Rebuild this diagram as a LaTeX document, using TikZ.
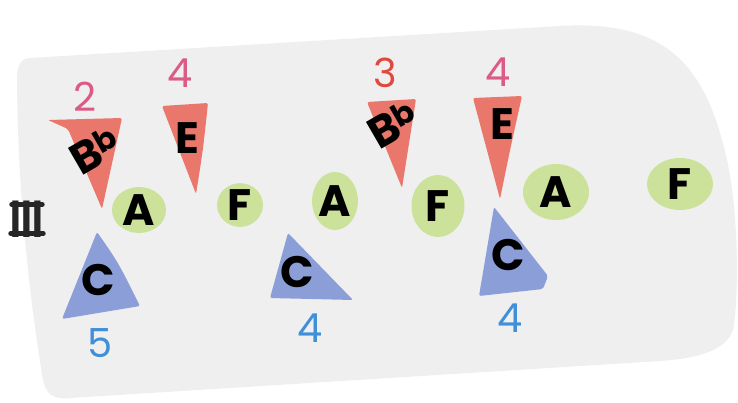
\documentclass[tikz,border=0pt]{standalone}
\usepackage{fontspec}
\setmainfont{Poppins}
\usetikzlibrary{shapes.geometric}
\definecolor{bg}{HTML}{EFEFEF}
\definecolor{tri}{HTML}{E9776B}
\definecolor{blu}{HTML}{8C9ED8}
\definecolor{grn}{HTML}{CCE29A}
\definecolor{pnk}{HTML}{DB5A86}
\definecolor{rd}{HTML}{E04A3C}
\definecolor{bnum}{HTML}{3F8FD9}
\begin{document}
\begin{tikzpicture}[x=1pt,y=-1pt,
  note/.style={font=\fontsize{44}{44}\bfseries\selectfont, text=black, inner sep=0pt},
  num/.style={font=\fontsize{40}{40}\selectfont, inner sep=0pt},
  redtri/.style={fill=tri, rounded corners=2pt},
  bluetri/.style={fill=blu, rounded corners=2pt},
  blob/.style={ellipse, fill=grn, inner sep=0pt, font=\fontsize{44}{44}\bfseries\selectfont}]
\fill[white] (0,0) rectangle (738,402);
\useasboundingbox (0,0) rectangle (738,402);
% background sheet
\fill[bg] (30,58) -- (560,26) .. controls (660,20) and (700,60) .. (722,140)
  .. controls (740,200) and (739,300) .. (733,330)
  .. controls (726,350) and (700,358) .. (660,361)
  -- (70,398) .. controls (52,400) and (46,393) .. (43,380)
  .. controls (30,300) and (18,200) .. (17,80)
  .. controls (17,66) and (20,59) .. (30,58) -- cycle;
% roman numeral
\node[font=\fontsize{52}{52}\bfseries\selectfont, inner sep=0pt, xscale=0.7,
  text=black!85] (rn) at (27,219) {\rmfamily III};
\draw[line width=5pt, line cap=round, black!85] ([xshift=1pt,yshift=-4pt]rn.north west) -- ([xshift=-1pt,yshift=-4pt]rn.north east);
\draw[line width=5pt, line cap=round, black!85] ([yshift=4pt]rn.south west) -- ([yshift=4pt]rn.south east);
% red triangles
\fill[redtri] (48,120) -- (122,118) -- (102,209) -- (68,129) -- cycle;
\fill[redtri] (162,106) -- (208,103) .. controls (203,150) .. (196,194) -- cycle;
\fill[redtri] (367,102) -- (416,99) -- (402,188) -- cycle;
\fill[redtri] (473,98) -- (522,96) .. controls (510,150) .. (500,199) -- cycle;
% blue triangles
\fill[bluetri] (97,232) .. controls (118,262) .. (140,306) -- (62,319) -- cycle;
\fill[bluetri] (288,233) -- (353,300) -- (270,298) -- cycle;
\fill[bluetri] (494,207) -- (548,276) -- (543,289) -- (479,296) -- cycle;
% green blobs
\node[blob, minimum width=54pt, minimum height=46pt] (a1) at (139,210) {A};
\node[blob, minimum width=46pt, minimum height=42pt] (f1) at (240,205) {F};
\node[blob, minimum width=44pt, minimum height=58pt] (a2) at (335,201) {A};
\node[blob, minimum width=53pt, minimum height=62pt] (f2) at (438,206) {F};
\node[blob, minimum width=66pt, minimum height=56pt] (a3) at (556,192) {A};
\node[blob, minimum width=66pt, minimum height=52pt] (f3) at (680,184) {F};
% triangle labels
\node[note, rotate=30] (bb1) at (95,150) {B\textsuperscript{b}};
\node[note] (e1) at (187,138) {E};
\node[note, rotate=30] (bb2) at (393,124) {B\textsuperscript{b}};
\node[note] (e2) at (502,124) {E};
\node[note] (c1) at (98,280) {C};
\node[note] (c2) at (297,272) {C};
\node[note] (c3) at (508,255) {C};
% numbers
\node[num, text=pnk] (n1) at (85,97) {2};
\node[num, text=pnk] (n2) at (180,73) {4};
\node[num, text=rd] (n3) at (385,73) {3};
\node[num, text=pnk] (n4) at (498,72) {4};
\node[num, text=bnum] (n5) at (100,343) {5};
\node[num, text=bnum] (n6) at (310,328) {4};
\node[num, text=bnum] (n7) at (510,318) {4};
\end{tikzpicture}
\end{document}
